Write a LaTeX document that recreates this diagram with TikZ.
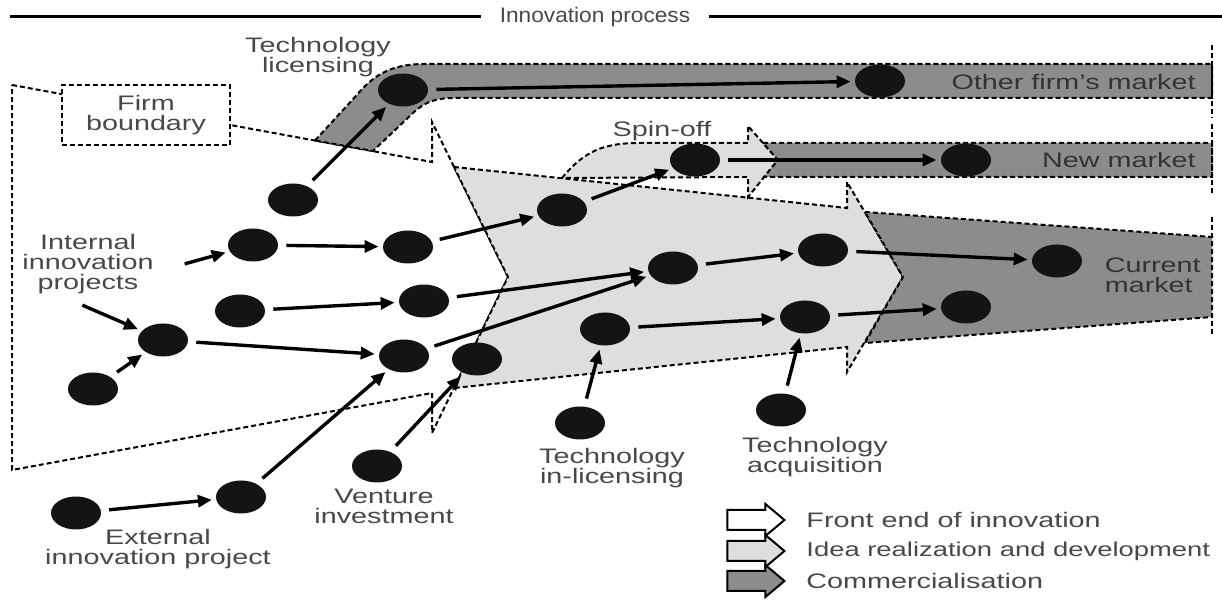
\documentclass[tikz,border=0pt]{standalone}
\usepackage{fontspec}
\setmainfont{Liberation Sans}[FakeStretch=1.37]
\newfontfamily\titlefont{Liberation Sans}[FakeStretch=1.08]
\usepackage{tikz}
\usetikzlibrary{positioning,shapes.geometric,shapes.arrows,arrows.meta}

\definecolor{darkband}{RGB}{140,140,140}
\definecolor{lightband}{RGB}{222,222,222}
\definecolor{labelgray}{RGB}{72,72,72}

\begin{document}
\begin{tikzpicture}[x=0.5pt, y=-0.5pt, node distance=2pt,
  dot/.style={ellipse, fill=black!92, minimum width=25pt, minimum height=16.5pt, inner sep=0pt},
  flow/.style={-{Triangle[length=7pt,width=6pt]}, line width=1.7pt, shorten <=4pt, shorten >=2pt},
  zone/.style={draw, line width=1pt, dash pattern=on 2.5pt off 1.5pt},
  lbl/.style={text=labelgray, align=center, font=\fontsize{10.5}{10}\selectfont, inner sep=1pt},
  legarrow/.style={single arrow, draw, line width=1pt, minimum height=28.5pt, minimum width=1pt,
    inner xsep=0pt, inner ysep=4.5pt, single arrow head extend=3pt, single arrow tip angle=80}]
  \useasboundingbox (0,0) rectangle (1222,608);

  \node[lbl, inner xsep=9pt, font=\titlefont\fontsize{10.5}{10}\selectfont] (title) at (595,17) {Innovation process};
  \coordinate (procL) at (10,17);
  \coordinate (procR) at (1222,17);
  \draw[line width=1.5pt] (procL) -- (title);
  \draw[line width=1.5pt] (title) -- (procR);

  \draw[zone, fill=white] (12,85) -- (432,162) -- (432,122) -- (508,277) -- (432,433) -- (432,393) -- (12,470) -- cycle;
  \draw[zone, fill=lightband] (454,167) -- (847,208) -- (847,182) -- (903,277) -- (847,372) -- (847,347) -- (454,388) -- (508,277) -- cycle;
  \draw[zone, fill=darkband] (865,212) -- (1212,237) -- (1212,317) -- (865,343) -- (903,277) -- cycle;
  \draw[zone, fill=lightband] (562,178) .. controls (585,150) and (605,143) .. (640,143) -- (748,143) -- (748,126) -- (778,160) -- (748,197) -- (748,177) -- cycle;
  \draw[zone, fill=darkband] (763,143) -- (1212,143) -- (1212,177) -- (764,177) -- (778,160) -- cycle;
  \draw[zone, fill=darkband] (315,140.5) -- (355,97) .. controls (372,77) and (388,64) .. (425,64) -- (1212,64) -- (1212,98) -- (455,98) .. controls (435,98) and (425,102) .. (413,113) -- (373,151) -- cycle;
  \draw[zone] (1212,45) -- (1212,118);
  \draw[zone] (1212,124) -- (1212,195);
  \draw[zone] (1212,217) -- (1212,337);

  \node[zone, fill=white, lbl, minimum width=84pt, minimum height=30pt] (firm) at (146,115) {Firm\\boundary};

  \node[dot] (tlsrc) at (293,200) {};
  \node[dot] (lic) at (403,90) {};
  \node[dot] (other) at (880,81) {};
  \node[dot] (a1) at (253,245) {};
  \node[dot] (a2) at (408,247) {};
  \node[dot] (a3) at (562,210) {};
  \node[dot] (spin) at (695,160) {};
  \node[dot] (newm) at (966,160) {};
  \node[dot] (b1) at (240,311) {};
  \node[dot] (b2) at (424,301) {};
  \node[dot] (c1) at (93,389) {};
  \node[dot] (c2) at (163,340) {};
  \node[dot] (c3) at (404,356) {};
  \node[dot] (vtgt) at (477,359) {};
  \node[dot] (mid) at (673,268) {};
  \node[dot] (upper) at (823,250) {};
  \node[dot] (cur) at (1057,261) {};
  \node[dot] (inltgt) at (605,329) {};
  \node[dot] (acqtgt) at (805,317) {};
  \node[dot] (cur2) at (966,307) {};
  \node[dot] (inl) at (580,423) {};
  \node[dot] (acq) at (781,410) {};
  \node[dot] (vent) at (377,466) {};
  \node[dot] (ext1) at (76,513) {};
  \node[dot] (ext2) at (241,497) {};

  \node[lbl] (liclbl) at (318,57) {Technology\\licensing};
  \node[lbl] (intl) at (88,264) {Internal\\innovation\\projects};
  \node[lbl] (spinlbl) at (662,131) {Spin-off};
  \node[lbl, anchor=east, text=black!80] (otherlbl) at (1198,82) {Other firm's market};
  \node[lbl, anchor=east, text=black!80] (newmlbl) at (1198,160) {New market};
  \node[lbl, align=left, right=10pt of cur, yshift=-7pt, text=black!80] (curlbl) {Current\\market};
  \node[lbl] (inllbl) at (612,468) {Technology\\in-licensing};
  \node[lbl] (acqlbl) at (815,457) {Technology\\acquisition};
  \node[lbl] (ventlbl) at (384,506) {Venture\\investment};
  \node[lbl] (extlbl) at (158,549) {External\\innovation project};
  \coordinate (intlE) at (177,266);
  \coordinate (intlS) at (75,302);

  \draw[flow] (tlsrc) -- (lic);
  \draw[flow] (lic) -- (other);
  \draw[flow] (intlE) -- (a1);
  \draw[flow] (a1) -- (a2);
  \draw[flow] (a2) -- (a3);
  \draw[flow] (a3) -- (spin);
  \draw[flow] (spin) -- (newm);
  \draw[flow] (intlS) -- (c2);
  \draw[flow] (c1) -- (c2);
  \draw[flow] (c2) -- (c3);
  \draw[flow] (b1) -- (b2);
  \draw[flow] (b2) -- (mid);
  \draw[flow] (c3) -- (mid);
  \draw[flow] (mid) -- (upper);
  \draw[flow] (upper) -- (cur);
  \draw[flow] (inltgt) -- (acqtgt);
  \draw[flow] (acqtgt) -- (cur2);
  \draw[flow] (inl) -- (inltgt);
  \draw[flow] (acq) -- (acqtgt);
  \draw[flow] (vent) -- (vtgt);
  \draw[flow] (ext1) -- (ext2);
  \draw[flow] (ext2) -- (c3);

  \node[legarrow, fill=white] (legfront) at (750,520) {};
  \node[legarrow, fill=lightband] (legidea) at (750,551) {};
  \node[legarrow, fill=darkband] (legcomm) at (750,581) {};
  \node[lbl, anchor=west, right=9pt of legfront] {Front end of innovation};
  \node[lbl, anchor=west, right=9pt of legidea, font=\fontsize{10}{10}\selectfont] {Idea realization and development};
  \node[lbl, anchor=west, right=9pt of legcomm] {Commercialisation};
\end{tikzpicture}
\end{document}
